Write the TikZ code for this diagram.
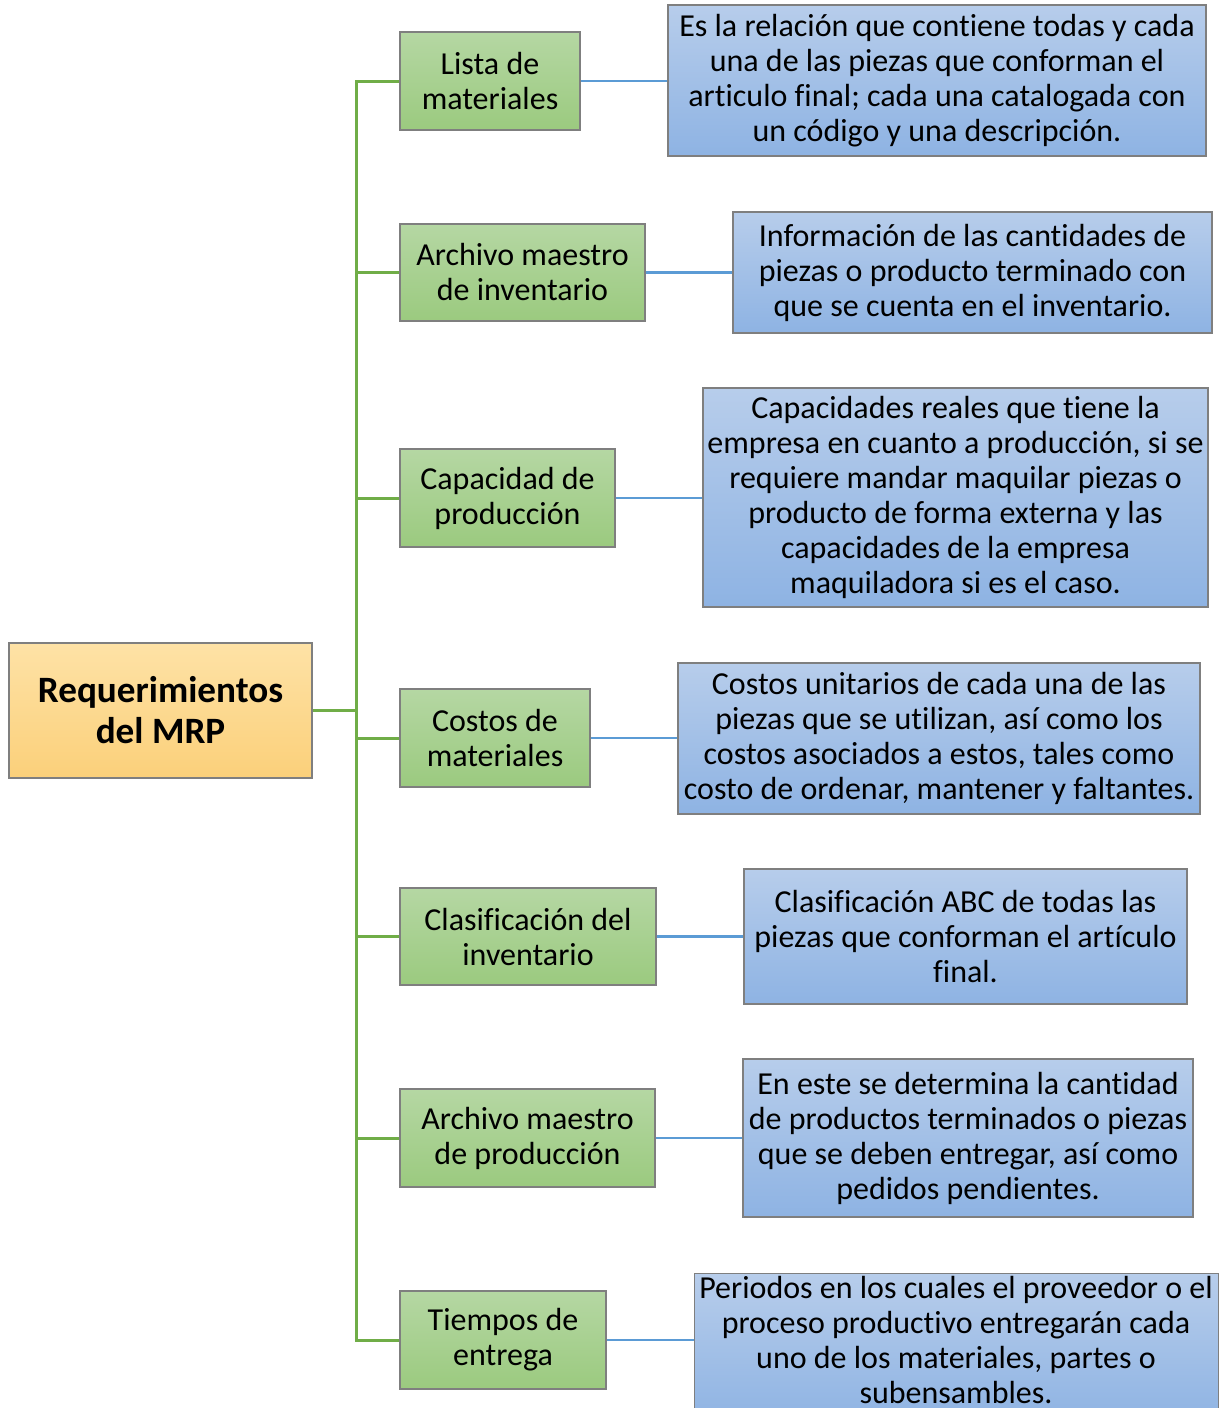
\documentclass[tikz,border=0pt]{standalone}
\usepackage{fontspec}
\setmainfont{Carlito}[Ligatures={NoCommon}]
\definecolor{grtop}{HTML}{B5D7A3}
\definecolor{grbot}{HTML}{9BCA7F}
\definecolor{bltop}{HTML}{B7CDEB}
\definecolor{blbot}{HTML}{8EB3E3}
\definecolor{ortop}{HTML}{FEE2A6}
\definecolor{orbot}{HTML}{FBD07A}
\definecolor{edge}{HTML}{7F7F7F}
\definecolor{trunk}{HTML}{70AD47}
\definecolor{link}{HTML}{5B9BD5}
\tikzset{
  boxbase/.style={draw=edge, line width=0.6pt, inner sep=0pt, align=center,
    font=\fontsize{16}{17.5}\selectfont},
  rootbox/.style={boxbase, top color=ortop, bottom color=orbot,
    font=\fontsize{18.6}{20.5}\selectfont\bfseries},
  topicbox/.style={boxbase, top color=grtop, bottom color=grbot},
  infobox/.style={boxbase, top color=bltop, bottom color=blbot},
  trunkline/.style={draw=trunk, line width=1.5pt},
  linkline/.style={draw=link, line width=1.1pt}
}
% place a box by its pixel corners: #1 style, #2 name, #3 x1, #4 y1, #5 x2, #6 y2, #7 text
\newcommand{\pbox}[7]{%
  \node[#1, minimum width={(#5-#3)*0.5pt}, minimum height={(#6-#4)*0.5pt}]
    (#2) at ({(#3+#5)/2},{(#4+#6)/2}) {#7};}
\begin{document}
\begin{tikzpicture}[x=0.5pt,y=-0.5pt]
\useasboundingbox (0,0) rectangle (1225,1408);
\clip (0,0) rectangle (1225,1408);
\fill[white] (0,0) rectangle (1225,1408);

% root
\pbox{rootbox}{root}{9}{643}{312}{778}{Requerimientos\\del MRP}

% topics
\pbox{topicbox}{t1}{400}{32}{580}{130}{Lista de\\materiales}
\pbox{topicbox}{t2}{400}{224}{645}{321}{Archivo maestro\\de inventario}
\pbox{topicbox}{t3}{400}{449}{615}{547}{Capacidad de\\producción}
\pbox{topicbox}{t4}{400}{689}{590}{787}{Costos de\\materiales}
\pbox{topicbox}{t5}{400}{888}{656}{985}{Clasificación del\\inventario}
\pbox{topicbox}{t6}{400}{1089}{655}{1187}{Archivo maestro\\de producción}
\pbox{topicbox}{t7}{400}{1291}{606}{1389}{Tiempos de\\entrega}

% descriptions
\pbox{infobox}{d1}{668}{5}{1206}{156}{Es la relación que contiene todas y cada\\una de las piezas que conforman el\\articulo final; cada una catalogada con\\un código y una descripción.}
\pbox{infobox}{d2}{733}{212}{1212}{333}{Información de las cantidades de\\piezas o producto terminado con\\que se cuenta en el inventario.}
\pbox{infobox}{d3}{703}{388}{1208}{607}{Capacidades reales que tiene la\\empresa en cuanto a producción, si se\\requiere mandar maquilar piezas o\\producto de forma externa y las\\capacidades de la empresa\\maquiladora si es el caso.}
\pbox{infobox}{d4}{678}{663}{1200}{814}{Costos unitarios de cada una de las\\piezas que se utilizan, así como los\\costos asociados a estos, tales como\\costo de ordenar, mantener y faltantes.}
\pbox{infobox}{d5}{744}{869}{1187}{1004}{Clasificación ABC de todas las\\piezas que conforman el artículo\\final.}
\pbox{infobox}{d6}{743}{1059}{1193}{1217}{En este se determina la cantidad\\de productos terminados o piezas\\que se deben entregar, así como\\pedidos pendientes.}
% the last box runs past the lower page edge
\node[infobox, anchor=north west, minimum width=262pt, minimum height=75pt]
  (d7) at (694,1273) {};
\node[boxbase, draw=none, align=center] at (956,1340)
  {Periodos en los cuales el proveedor o el\\proceso productivo entregarán cada\\uno de los materiales, partes o\\subensambles.};

% tree connectors
\coordinate (jn) at (356,711);
\draw[trunkline] (root.east) -- (root.east -| jn);
\draw[trunkline] (t1.west) -| (jn);
\draw[trunkline] (t7.west) -| (jn);
\foreach \t in {t2,t3,t4,t5,t6}
  \draw[trunkline] (\t.west) -- (\t.west -| jn);

% description links
\foreach \i in {1,...,7}
  \draw[linkline] (t\i.east) -- (t\i.east -| d\i.west);
\end{tikzpicture}
\end{document}
